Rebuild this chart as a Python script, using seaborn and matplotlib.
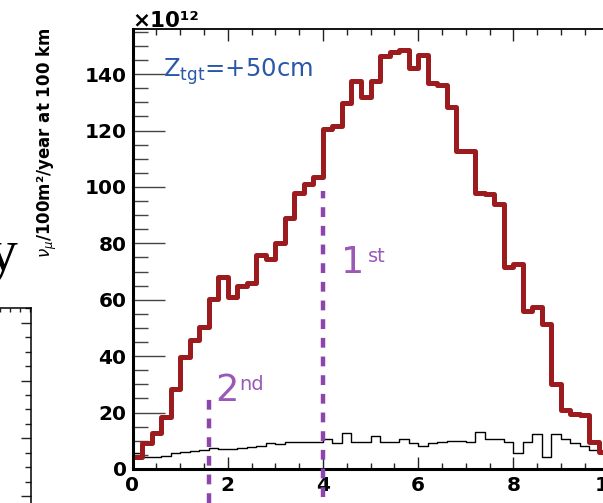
import numpy as np
import pandas as pd
import matplotlib
matplotlib.use("Agg")
import matplotlib.pyplot as plt
import seaborn as sns
from matplotlib.ticker import MultipleLocator, NullLocator

# ---------------- data ----------------
bin_edges = [round(0.2 * i, 1) for i in range(51)]   # 50 bins of width 0.2
red_flux = [4.3, 9.2, 12.8, 18.5, 28.4, 39.6, 45.6, 50.5, 60.3, 68.0,
            61.0, 65.0, 66.0, 76.0, 74.5, 80.0, 89.0, 98.0, 101.0, 103.5,
            120.4, 121.6, 129.8, 137.5, 131.8, 137.5, 146.3, 147.8, 148.5, 142.0,
            146.9, 136.9, 136.3, 128.3, 112.7, 112.7, 98.0, 97.4, 93.8, 71.5,
            72.7, 56.0, 57.3, 51.5, 30.3, 21.0, 19.5, 19.0, 9.6, 6.0]
black_flux = [5.5, 4.4, 4.3, 4.5, 5.6, 5.9, 6.3, 6.6, 7.5, 7.0,
              7.2, 7.4, 7.9, 8.0, 9.1, 8.7, 9.4, 9.5, 9.6, 9.6,
              10.6, 9.3, 12.8, 9.6, 9.6, 11.7, 9.6, 9.6, 10.8, 9.3,
              8.1, 9.3, 9.6, 9.8, 9.8, 9.4, 13.2, 10.5, 10.8, 9.6,
              5.8, 9.6, 12.4, 4.3, 12.5, 10.5, 9.3, 8.1, 6.7, 6.0]
vline_x = [4.0, 1.6]
vline_top = [98.5, 27.0]
vline_bottom = [-10.0, -12.0]
xticks = [0, 2, 4, 6, 8, 10]
yticks = [0, 20, 40, 60, 80, 100, 120, 140]

RED = "#9B1B1F"
PURPLE_LINE = "#8E44AD"
PURPLE_TEXT = "#9B59B6"
BLUE = "#2A57AA"

sns.set_theme(style="ticks")
plt.rcParams["font.family"] = ["DejaVu Sans"]
plt.rcParams["mathtext.fontset"] = "dejavusans"

W, H = 603, 503
fig = plt.figure(figsize=(W / 100, H / 100), dpi=100)
fig.patch.set_facecolor("white")

# ---------------- main panel ----------------
ax = fig.add_axes([132.5 / W, 34 / H, 476 / W, 440 / H])
ax.set_facecolor("white")
centers = [(a + b) / 2 for a, b in zip(bin_edges[:-1], bin_edges[1:])]
df_black = pd.DataFrame({"E": centers, "flux": black_flux})
df_red = pd.DataFrame({"E": centers, "flux": red_flux})

sns.histplot(data=df_black, x="E", weights="flux", bins=bin_edges, element="step",
             fill=False, color="black", linewidth=1.0, ax=ax)
sns.histplot(data=df_red, x="E", weights="flux", bins=bin_edges, element="step",
             fill=False, color=RED, linewidth=3.6, ax=ax)

ax.vlines(vline_x, vline_bottom, vline_top, colors=PURPLE_LINE,
          linestyles=[(0, (2.2, 2.0))], linewidth=3.2, clip_on=False, zorder=5)

ax.set_xlim(0, 10)
ax.set_ylim(0, 156)
ax.set_xlabel("")
ax.set_ylabel("")

ax.set_xticks(xticks)
ax.set_xticklabels([str(t) for t in xticks], fontweight="bold", fontsize=14.5)
ax.set_yticks(yticks)
ax.set_yticklabels([str(t) for t in yticks], fontweight="bold", fontsize=14.5)
ax.xaxis.set_minor_locator(MultipleLocator(0.5))
ax.yaxis.set_minor_locator(MultipleLocator(5))

ax.tick_params(axis="x", which="major", direction="in", length=8.6, width=1.0,
               top=True, bottom=True, pad=4.7, color="#222", labelcolor="black")
ax.tick_params(axis="x", which="minor", direction="in", length=4.5, width=1.0,
               top=True, bottom=True, color="#222")
ax.tick_params(axis="y", which="major", direction="in", length=23, width=1.0,
               left=True, right=False, pad=4.3, color="#444", labelcolor="black")
ax.tick_params(axis="y", which="minor", direction="in", length=10.8, width=1.0,
               left=True, right=False, color="#444")

for side, lw in (("left", 2.2), ("bottom", 2.2), ("top", 1.3), ("right", 1.3)):
    ax.spines[side].set_visible(True)
    ax.spines[side].set_linewidth(lw)
    ax.spines[side].set_color("black")

ax.text(0.0, 1 + 2 / 440, "×10¹²", transform=ax.transAxes, ha="left",
        va="baseline", fontsize=15.5, fontweight="bold", color="black")

ax.text((163 - 132.5) / 476, (469 - 77) / 440, r"Z$_{\rm tgt}$=+50cm",
        transform=ax.transAxes, ha="left", va="baseline", fontsize=17.5,
        color=BLUE)

t2 = ax.text(1.73, 24.1, "2", ha="left", va="baseline", fontsize=26.5,
             color=PURPLE_TEXT)
ax.annotate("nd", xy=(1.0, 1.0), xycoords=t2, xytext=(1, -2),
            textcoords="offset points", ha="left", va="top", fontsize=14,
            color=PURPLE_TEXT)
t1 = ax.text(4.38, 69.5, "1", ha="left", va="baseline", fontsize=26.5,
             color=PURPLE_TEXT)
ax.annotate("st", xy=(1.0, 1.0), xycoords=t1, xytext=(3, -2),
            textcoords="offset points", ha="left", va="top", fontsize=14,
            color=PURPLE_TEXT)

fig.text(51 / W, 1 - 28 / H, r"$\nu_{\mu}$/100m²/year at 100 km",
         rotation=90, rotation_mode="anchor", ha="right", va="baseline",
         fontsize=12, fontweight="bold", color="black")

# ---------------- fragment of the neighbouring panel ----------------
ax2 = fig.add_axes([-300 / W, -51 / H, 331 / W, 246 / H])
ax2.set_facecolor("white")
ax2.set_xlim(0, 331)
ax2.set_ylim(0, 4.256)
ax2.yaxis.set_major_locator(MultipleLocator(1))
ax2.yaxis.set_minor_locator(MultipleLocator(0.25))
ax2.xaxis.set_major_locator(NullLocator())
ax2.xaxis.set_minor_locator(MultipleLocator(10))
ax2.tick_params(axis="y", which="major", direction="in", length=7.5, width=1.0,
                left=False, right=True, labelleft=False, labelright=False,
                color="#222")
ax2.tick_params(axis="y", which="minor", direction="in", length=4.3, width=1.0,
                left=False, right=True, color="#222")
ax2.tick_params(axis="x", which="minor", direction="in", length=3, width=1.0,
                top=True, bottom=False, color="#222")
ax2.tick_params(axis="x", labelbottom=False, labeltop=False)
for side in ("left", "bottom"):
    ax2.spines[side].set_visible(False)
for side in ("right", "top"):
    ax2.spines[side].set_visible(True)
    ax2.spines[side].set_linewidth(1.1)
    ax2.spines[side].set_color("black")

fig.text(17 / W, 1 - 270 / H, "y", family="Liberation Serif", fontsize=43,
         ha="right", va="baseline", color="black")

fig.savefig("out.png", dpi=100, facecolor="white")
